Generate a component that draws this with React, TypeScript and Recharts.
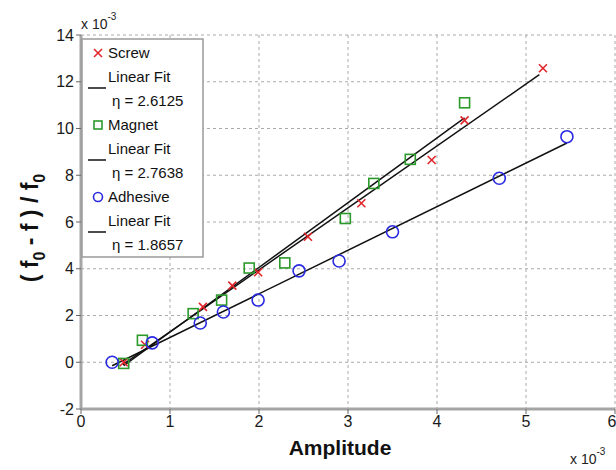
import { ScatterChart, Scatter, XAxis, YAxis, CartesianGrid } from "recharts";

// values in units of 1e-3
const screwX = [0.48, 0.72, 1.37, 1.7, 1.99, 2.55, 3.15, 3.94, 4.31, 5.19];
const screwY = [0.0, 0.75, 2.37, 3.28, 3.85, 5.37, 6.8, 8.65, 10.35, 12.58];
const magnetX = [0.48, 0.69, 1.26, 1.58, 1.89, 2.29, 2.97, 3.29, 3.7, 4.31];
const magnetY = [-0.05, 0.94, 2.08, 2.66, 4.03, 4.25, 6.15, 7.65, 8.68, 11.1];
const adhesiveX = [0.35, 0.8, 1.34, 1.6, 1.99, 2.45, 2.9, 3.5, 4.7, 5.46];
const adhesiveY = [0.0, 0.83, 1.68, 2.15, 2.66, 3.91, 4.33, 5.58, 7.87, 9.65];

// linear fit end points
const screwFitX = [0.47, 5.15];
const screwFitY = [-0.1, 12.3];
const magnetFitX = [0.48, 4.31];
const magnetFitY = [-0.15, 10.45];
const adhesiveFitX = [0.35, 5.46];
const adhesiveFitY = [-0.15, 9.38];

const xTicks = [0, 1, 2, 3, 4, 5, 6];
const yTicks = [-2, 0, 2, 4, 6, 8, 10, 12, 14];

const legendItems = [
  { name: "Screw", eta: "2.6125", color: "#e0262b", marker: "x" },
  { name: "Magnet", eta: "2.7638", color: "#2b9a2b", marker: "square" },
  { name: "Adhesive", eta: "1.8657", color: "#2a2ae0", marker: "circle" },
];

const FONT = "'Liberation Sans', Arial, sans-serif";

const zip = (xs: number[], ys: number[]) => xs.map((x, i) => ({ x, y: ys[i] }));

const Cross = (props: any) => {
  const { cx, cy } = props;
  const s = 4;
  return (
    <g stroke="#e0262b" strokeWidth={1.6}>
      <line x1={cx - s} y1={cy - s} x2={cx + s} y2={cy + s} />
      <line x1={cx - s} y1={cy + s} x2={cx + s} y2={cy - s} />
    </g>
  );
};

const Square = (props: any) => {
  const { cx, cy } = props;
  return <rect x={cx - 5} y={cy - 5} width={10} height={10} fill="none" stroke="#2b9a2b" strokeWidth={1.6} />;
};

const Circle = (props: any) => {
  const { cx, cy } = props;
  return <circle cx={cx} cy={cy} r={6} fill="none" stroke="#2a2ae0" strokeWidth={1.6} />;
};

const NoDot = () => <g />;

const YLabel = (props: any) => {
  const vb = props.viewBox || {};
  const cy = vb.y + vb.height / 2 + 6;
  const cx = 38;
  return (
    <text
      transform={`translate(${cx},${cy}) rotate(-90)`}
      textAnchor="middle"
      fontFamily={FONT}
      fontWeight="bold"
      fontSize={23}
      fill="#111"
    >
      {"( f"}
      <tspan fontSize={16} dy={7}>0</tspan>
      <tspan dy={-7}>{" - f ) / f"}</tspan>
      <tspan fontSize={16} dy={7}>0</tspan>
    </text>
  );
};

function LegendBox() {
  const left = 82;
  const top = 39;
  return (
    <svg
      width={616}
      height={470}
      style={{ position: "absolute", left: 0, top: 0, pointerEvents: "none" }}
      fontFamily={FONT}
    >
      <rect x={left} y={top} width={121} height={218} fill="#fff" stroke="#9a9a9a" strokeWidth={1.5} />
      {legendItems.map((it, i) => {
        const y0 = 53 + i * 72;
        const mx = 98;
        return (
          <g key={it.name}>
            {it.marker === "x" && <Cross cx={mx} cy={y0} />}
            {it.marker === "square" && (
              <rect x={mx - 4} y={y0 - 4} width={8} height={8} fill="none" stroke={it.color} strokeWidth={1.6} />
            )}
            {it.marker === "circle" && <circle cx={mx} cy={y0} r={4.5} fill="none" stroke={it.color} strokeWidth={1.6} />}
            <text x={108} y={y0 + 5} fontSize={15} fill="#111">{it.name}</text>
            <line x1={88} x2={106} y1={y0 + 35} y2={y0 + 35} stroke="#111" strokeWidth={1.5} />
            <text x={108} y={y0 + 29} fontSize={15} fill="#111">Linear Fit</text>
            <text x={112} y={y0 + 53} fontSize={15} fill="#111">{`\u03b7 = ${it.eta}`}</text>
          </g>
        );
      })}
      <text x={81} y={29} fontSize={14} fill="#222">
        x 10<tspan fontSize={10} dy={-9}>-3</tspan>
      </text>
      <text x={570} y={464} fontSize={14} fill="#222">
        x 10<tspan fontSize={10} dy={-9}>-3</tspan>
      </text>
    </svg>
  );
}

export default function App() {
  const tickStyle = { fill: "#1a1a1a", fontSize: 16, fontFamily: FONT };
  return (
    <div style={{ position: "absolute", left: 0, top: 0, width: 616, height: 470, background: "#fff" }}>
      <ScatterChart width={616} height={470} margin={{ top: 35, right: 1, bottom: 0, left: 0 }}>
        <CartesianGrid strokeDasharray="3 3" stroke="#aaaaaa" />
        <XAxis
          type="number"
          dataKey="x"
          domain={[0, 6]}
          ticks={xTicks}
          allowDataOverflow
          height={61}
          tick={tickStyle}
          tickSize={5}
          axisLine={{ stroke: "#a5a5a5", strokeWidth: 3 }}
          tickLine={{ stroke: "#666" }}
          label={{ value: "Amplitude", position: "insideBottom", offset: 15, fontSize: 21, fontWeight: "bold", fill: "#111", fontFamily: FONT, dx: -8 }}
        />
        <YAxis
          type="number"
          dataKey="y"
          domain={[-2, 14]}
          ticks={yTicks}
          allowDataOverflow
          width={81}
          tick={tickStyle}
          tickSize={5}
          axisLine={{ stroke: "#a5a5a5", strokeWidth: 3 }}
          tickLine={{ stroke: "#666" }}
          label={(p: any) => <YLabel {...p} />}
        />
        <Scatter data={zip(screwFitX, screwFitY)} line={{ stroke: "#111", strokeWidth: 1.5 }} shape={NoDot} isAnimationActive={false} />
        <Scatter data={zip(magnetFitX, magnetFitY)} line={{ stroke: "#111", strokeWidth: 1.5 }} shape={NoDot} isAnimationActive={false} />
        <Scatter data={zip(adhesiveFitX, adhesiveFitY)} line={{ stroke: "#111", strokeWidth: 1.5 }} shape={NoDot} isAnimationActive={false} />
        <Scatter data={zip(screwX, screwY)} shape={Cross} isAnimationActive={false} />
        <Scatter data={zip(magnetX, magnetY)} shape={Square} isAnimationActive={false} />
        <Scatter data={zip(adhesiveX, adhesiveY)} shape={Circle} isAnimationActive={false} />
      </ScatterChart>
      <LegendBox />
    </div>
  );
}
